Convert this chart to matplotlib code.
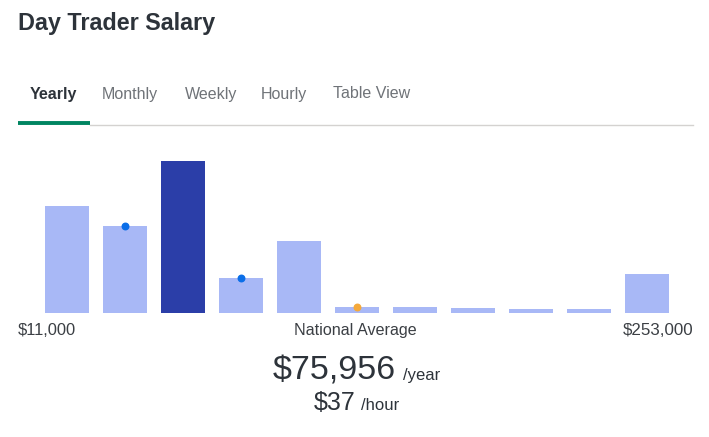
import matplotlib
matplotlib.use("Agg")
import matplotlib.pyplot as plt
from matplotlib.lines import Line2D

# ---- data ----
bar_heights = [107, 87, 152, 35, 72, 6, 6, 5, 4, 4, 39]
highlight_index = 2
blue_markers = [1, 3]
orange_markers = [5]
tabs = ["Yearly", "Monthly", "Weekly", "Hourly", "Table View"]
tab_x = [30, 102, 185, 261, 333]
min_label = "$11,000"
max_label = "$253,000"
mid_label = "National Average"
yearly_value = "$75,956"
hourly_value = "$37"
title = "Day Trader Salary"

W, H = 709, 437
fig = plt.figure(figsize=(W / 100, H / 100), dpi=100)
fig.patch.set_facecolor("white")
FONT = "Liberation Sans"

def px(x, y):
    return x / W, 1 - y / H

# title
fig.text(*px(18, 30), title, fontsize=16.8, fontweight="bold", color="#2d333a",
         family=FONT, va="baseline", ha="left")

# tabs
for i, (t, x) in enumerate(zip(tabs, tab_x)):
    fig.text(*px(x, 98.5), t, fontsize=11.5, color="#2d333a" if i == 0 else "#6f7378",
             fontweight="bold" if i == 0 else "normal", family=FONT, va="baseline", ha="left")

fig.add_artist(Line2D([90 / W, 693 / W], [1 - 124.5 / H] * 2, color="#d4d2d0", lw=1.0,
                      transform=fig.transFigure))
fig.add_artist(Line2D([18 / W, 90 / W], [1 - 123 / H] * 2, color="#008561", lw=2.8,
                      transform=fig.transFigure, solid_capstyle="butt"))

# bar axes
n = len(bar_heights)
pitch = 58
left_px = 66.5 - pitch / 2
base_px, top_px = 313, 161
ax = fig.add_axes([left_px / W, 1 - base_px / H, n * pitch / W, (base_px - top_px) / H])
colors = ["#2b3ea8" if i == highlight_index else "#a8b8f6" for i in range(n)]
ax.bar(range(n), bar_heights, width=44 / 58, color=colors)
ax.scatter(blue_markers, [bar_heights[i] for i in blue_markers], s=22, color="#0a6ee8", zorder=3)
ax.scatter(orange_markers, [bar_heights[i] for i in orange_markers], s=22, color="#f5a93b", zorder=3)
ax.set_xlim(-0.5, n - 0.5)
ax.set_ylim(0, max(bar_heights))
ax.axis("off")

# axis labels
fig.text(*px(18, 335), min_label, fontsize=11.9, color="#3b3f44", family=FONT, va="baseline", ha="left")
fig.text(*px(355.5, 335), mid_label, fontsize=11.6, color="#3b3f44", family=FONT, va="baseline", ha="center")
fig.text(*px(693, 335), max_label, fontsize=12.2, color="#3b3f44", family=FONT, va="baseline", ha="right")

# values
fig.text(*px(396, 380), yearly_value, fontsize=24.5, color="#2d333a", family=FONT, va="baseline", ha="right")
fig.text(*px(403, 380), "/year", fontsize=12, color="#2d333a", family=FONT, va="baseline", ha="left")
fig.text(*px(356, 410), hourly_value, fontsize=18, color="#2d333a", family=FONT, va="baseline", ha="right")
fig.text(*px(361, 410), "/hour", fontsize=12, color="#2d333a", family=FONT, va="baseline", ha="left")

fig.savefig("out.png", dpi=100, facecolor="white")
